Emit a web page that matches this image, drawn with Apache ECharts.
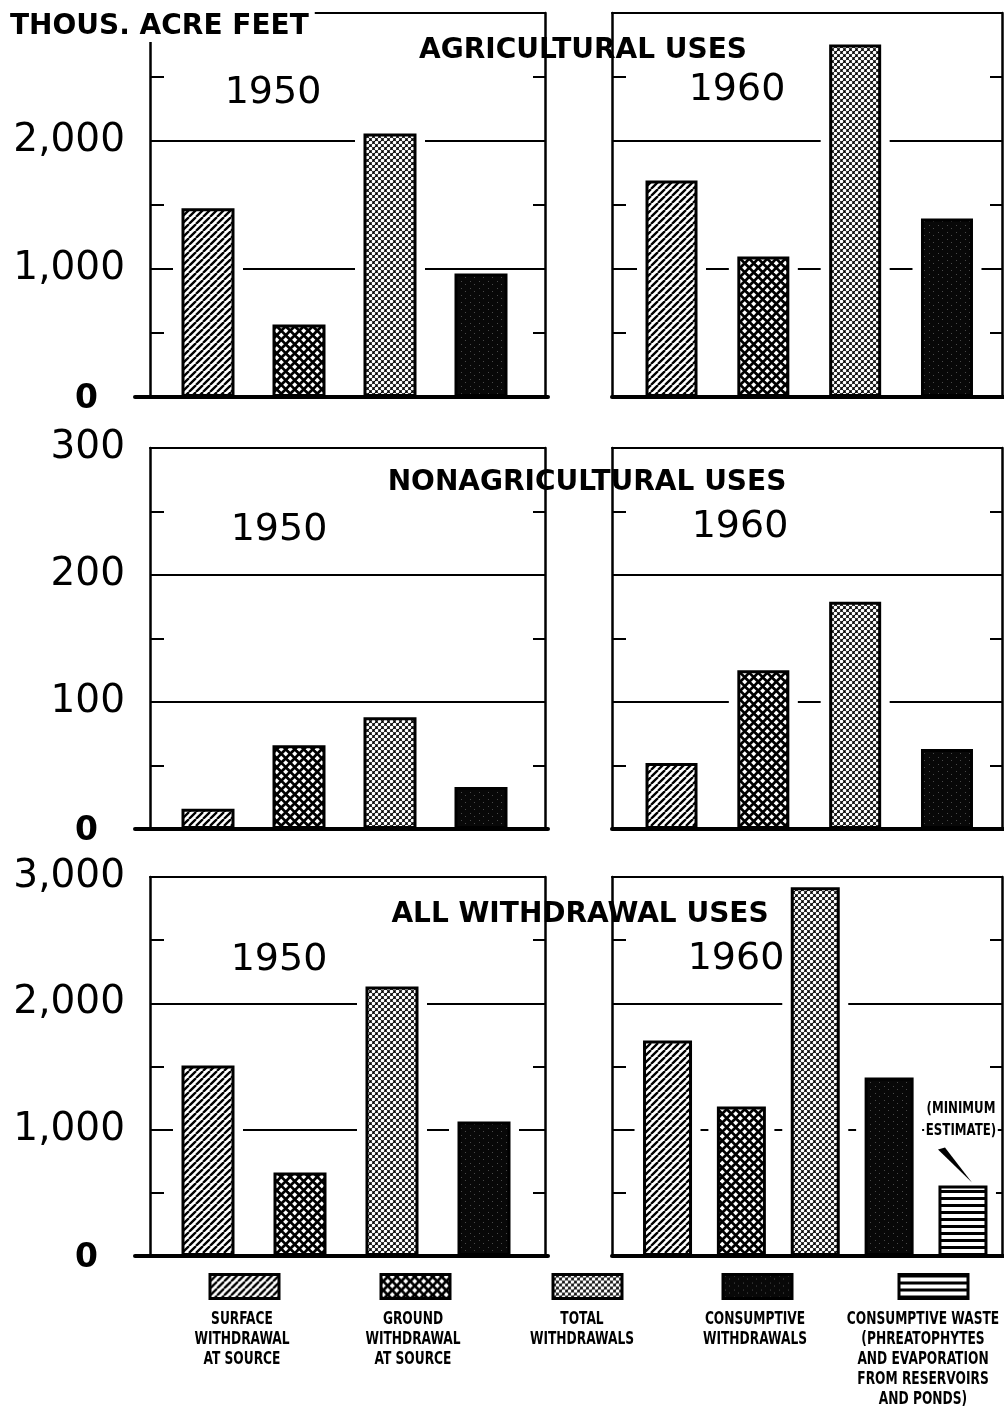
<!DOCTYPE html>
<html><head><meta charset="utf-8">
<script src="https://cdn.jsdelivr.net/npm/echarts@6/dist/echarts.min.js"></script>
<style>html,body{margin:0;padding:0;background:#fff}#c{width:1004px;height:1411px}</style>
</head><body><div id="c"></div>
<script>
// ---------------- DATA ----------------
const seriesNames = ['Surface withdrawal at source', 'Ground withdrawal at source', 'Total withdrawals', 'Consumptive withdrawals', 'Consumptive waste'];
const categories4 = ['Surface', 'Ground', 'Total', 'Consumptive'];
const categories5 = ['Surface', 'Ground', 'Total', 'Consumptive', 'Waste'];
const agri1950 = [1475, 566, 2059, 965];
const agri1960 = [1691, 1098, 2754, 1395];
const nonagri1950 = [16, 66, 88, 33];
const nonagri1960 = [52, 125, 179, 63];
const all1950 = [1508, 661, 2134, 1065];
const all1960 = [1706, 1184, 2918, 1413, 558];
const agriTickLabels = [0, 1000, 2000];
const nonagriTickLabels = [0, 100, 200, 300];
const allTickLabels = [0, 1000, 2000, 3000];
const rowTitles = ['AGRICULTURAL USES', 'NONAGRICULTURAL USES', 'ALL WITHDRAWAL USES'];
const years = ['1950', '1960'];
const unitTitle = 'THOUS. ACRE FEET';
const legendLabels = ['SURFACE\nWITHDRAWAL\nAT SOURCE', 'GROUND\nWITHDRAWAL\nAT SOURCE', 'TOTAL\nWITHDRAWALS', 'CONSUMPTIVE\nWITHDRAWALS', 'CONSUMPTIVE WASTE\n(PHREATOPHYTES\nAND EVAPORATION\nFROM RESERVOIRS\nAND PONDS)'];
const noteText = '(MINIMUM\nESTIMATE)';

// ---------------- PATTERNS ----------------
function tile(w, h, fn) {
  const c = document.createElement('canvas'); c.width = w; c.height = h;
  const x = c.getContext('2d'); fn(x, w, h);
  return { image: c, repeat: 'repeat' };
}
function wrapped(w, h, pts, drawOne) {
  for (const [cx, cy] of pts) for (const dx of [-w, 0, w]) for (const dy of [-h, 0, h]) drawOne(cx + dx, cy + dy);
}
const patSurface = tile(7, 7, (x, w, h) => {
  x.fillStyle = '#fff'; x.fillRect(0, 0, w, h);
  x.strokeStyle = '#000'; x.lineWidth = 2.3; x.beginPath();
  for (const o of [-w, 0, w]) { x.moveTo(o, h); x.lineTo(o + w, 0); }
  x.stroke();
});
const patGround = tile(9, 9, (x, w, h) => {
  x.fillStyle = '#000'; x.fillRect(0, 0, w, h); x.fillStyle = '#fff';
  wrapped(w, h, [[2.25, 2.25], [6.75, 6.75]], (cx, cy) => {
    const r = 2.6; x.beginPath(); x.moveTo(cx, cy - r); x.lineTo(cx + r, cy); x.lineTo(cx, cy + r); x.lineTo(cx - r, cy); x.closePath(); x.fill();
  });
});
const patTotal = tile(6, 6, (x, w, h) => {
  x.fillStyle = '#000'; x.fillRect(0, 0, w, h); x.fillStyle = '#fff';
  wrapped(w, h, [[1.5, 1.5], [4.5, 4.5]], (cx, cy) => { x.beginPath(); x.arc(cx, cy, 1.8, 0, Math.PI * 2); x.fill(); });
});
const patCons = tile(9, 7, (x, w, h) => {
  x.fillStyle = '#080808'; x.fillRect(0, 0, w, h);
  x.fillStyle = '#4a4a4a'; x.fillRect(2, 1, 1, 1); x.fillRect(6, 4, 1, 1);
});
const patWaste = tile(4, 7, (x, w, h) => {
  x.fillStyle = '#fff'; x.fillRect(0, 0, w, h);
  x.fillStyle = '#000'; x.fillRect(0, 0, w, 3);
});
const patterns = [patSurface, patGround, patTotal, patCons, patWaste];

// ---------------- LAYOUT ----------------
const rowsLayout = [
  { top: 13, bottom: 397, max: 3000, major: 1000, minor: 500, labels: agriTickLabels, titleY: 51, yearY: [93, 90] },
  { top: 448, bottom: 829, max: 300, major: 100, minor: 50, labels: nonagriTickLabels, titleY: 483, yearY: [530, 527] },
  { top: 877, bottom: 1256, max: 3000, major: 1000, minor: 500, labels: allTickLabels, titleY: 915, yearY: [960, 959] }
];
const titleX = [583, 587, 580];
const yearX = [[273, 737], [279, 740], [279, 736]];
const frameX = [[150, 545], [612, 1002]];
const baseX = [[135, 548], [612, 1004]];
const barsX = [
  [[162.5, 526.5], [625.6, 992.9]],
  [[162.5, 526.5], [625.6, 992.9]],
  [[162, 530], [630.6, 999.9]]
];
const barW = [[53, 52], [53, 52], [53, 49]];
const HALO = 7;

const panels = [
  { row: 0, side: 0, values: agri1950, cats: categories4 },
  { row: 0, side: 1, values: agri1960, cats: categories4 },
  { row: 1, side: 0, values: nonagri1950, cats: categories4 },
  { row: 1, side: 1, values: nonagri1960, cats: categories4 },
  { row: 2, side: 0, values: all1950, cats: categories4 },
  { row: 2, side: 1, values: all1960, cats: categories5 }
];

const grids = [], xAxes = [], yAxes = [], series = [], titles = [], legends = [], graphics = [];
const FONT = 'DejaVu Sans';
const COND = '"DejaVu Sans Condensed", "DejaVu Sans", sans-serif';
const line = (w) => ({ show: true, onZero: false, lineStyle: { color: '#000', width: w } });
const off = { show: false };
function addGrid(l, r, top, h) {
  grids.push({ left: l, width: r - l, top: top, height: h, containLabel: false, outerBoundsMode: 'none', show: false });
  return grids.length - 1;
}
let noteAxes = null;

panels.forEach((p, pi) => {
  const L = rowsLayout[p.row];
  const h = L.bottom - L.top;
  // baseline grid
  const g0 = addGrid(baseX[p.side][0], baseX[p.side][1], L.top, h);
  xAxes.push({ gridIndex: g0, type: 'value', min: 0, max: 1, position: 'bottom', axisLine: line(4), axisTick: off, axisLabel: off, splitLine: off, z: 10 });
  yAxes.push({ gridIndex: g0, type: 'value', min: 0, max: L.max, show: false });
  // frame grid
  const g1 = addGrid(frameX[p.side][0], frameX[p.side][1], L.top, h);
  xAxes.push({ gridIndex: g1, type: 'value', min: 0, max: 1, position: 'top', axisLine: line(2), axisTick: off, axisLabel: off, splitLine: off });
  yAxes.push({ gridIndex: g1, type: 'value', position: 'left', min: 0, max: L.max, interval: L.minor,
    axisLine: line(2.5), axisTick: { show: true, inside: true, length: 14, lineStyle: { color: '#000', width: 2 } },
    axisLabel: off, splitLine: off });
  yAxes.push({ gridIndex: g1, type: 'value', position: 'left', min: 0, max: L.max, interval: L.major,
    axisLine: { show: false }, axisTick: off,
    axisLabel: p.side === 0 ? {
      show: true, margin: 25, color: '#000', fontFamily: FONT, fontSize: 39,
      formatter: (v) => L.labels.includes(v) ? (v === 0 ? '{z|0}' : v.toLocaleString('en-US')) : '',
      rich: { z: { fontFamily: FONT, fontWeight: 'bold', fontSize: 33, color: '#000', padding: [5, 27, 0, 0] } }
    } : off,
    splitLine: { show: true, lineStyle: { color: '#000', width: 2 } } });
  yAxes.push({ gridIndex: g1, type: 'value', position: 'right', min: 0, max: L.max, interval: L.minor,
    axisLine: line(2.5), axisTick: { show: true, inside: true, length: 12, lineStyle: { color: '#000', width: 2 } },
    axisLabel: off, splitLine: off });
  // bars grid
  const g2 = addGrid(barsX[p.row][p.side][0], barsX[p.row][p.side][1], L.top, h);
  const bx = xAxes.length; xAxes.push({ gridIndex: g2, type: 'category', data: p.cats, show: false });
  const by = yAxes.length; yAxes.push({ gridIndex: g2, type: 'value', min: 0, max: L.max, show: false });
  const bw = barW[p.row][p.side];
  if (pi === 5) noteAxes = { x: bx, y: by, w: bw };
  // halo (white gap around bars)
  series.push({ type: 'custom', xAxisIndex: bx, yAxisIndex: by, z: 3, silent: true,
    data: p.values.map((v, i) => [i, v]),
    renderItem: (params, api) => {
      const t = api.coord([api.value(0), api.value(1)]);
      const b = api.coord([api.value(0), 0]);
      const w = bw + 3 + 2 * HALO;
      return { type: 'rect', shape: { x: t[0] - w / 2, y: t[1], width: w, height: b[1] - t[1] }, style: { fill: '#fff' } };
    } });
  p.values.forEach((v, k) => {
    series.push({ type: 'bar', name: seriesNames[k], xAxisIndex: bx, yAxisIndex: by, z: 4, silent: true,
      barWidth: bw, barGap: '-100%', animation: false,
      data: p.values.map((vv, i) => i === k ? vv : '-'),
      itemStyle: { color: patterns[k], borderColor: '#000', borderWidth: 3 } });
  });
  // year label
  titles.push({ text: years[p.side], left: yearX[p.row][p.side], top: L.yearY[p.side], textAlign: 'center', textVerticalAlign: 'middle', padding: 0,
    textStyle: { fontFamily: FONT, fontWeight: 'normal', fontSize: 38, color: '#000' } });
});

rowTitles.forEach((t, r) => {
  titles.push({ text: t, left: titleX[r], top: rowsLayout[r].titleY, textAlign: 'center', textVerticalAlign: 'middle', padding: 0,
    textStyle: { fontFamily: FONT, fontWeight: 'bold', fontSize: 28, color: '#000' } });
});
titles.push({ text: unitTitle, left: 6, top: 3, padding: [10, 6, 1, 4], backgroundColor: '#fff',
  textStyle: { fontFamily: FONT, fontWeight: 'bold', fontSize: 28, lineHeight: 28, color: '#000' } });

// legend
const legendX = [208.5, 379.5, 551.5, 721.5, 897.5];
const legendLabelX = [242, 413, 582, 755, 923];
seriesNames.forEach((n, k) => {
  legends.push({ data: [{ name: n, icon: 'rect', itemStyle: { color: patterns[k], borderColor: '#000', borderWidth: 3 } }],
    left: legendX[k], top: 1273, orient: 'horizontal', padding: 0, itemGap: 0, itemWidth: 69, itemHeight: 24,
    selectedMode: false, formatter: () => '', textStyle: { fontSize: 1 } });
  graphics.push({ type: 'text', z: 20, silent: true, x: legendLabelX[k], y: 1310, scaleX: 0.8,
    style: { text: legendLabels[k], align: 'center', verticalAlign: 'top', font: 'bold 17px ' + COND, lineHeight: 20, fill: '#000' } });
});

const chart = echarts.init(document.getElementById('c'), null, { renderer: 'canvas', width: 1004, height: 1411 });
chart.setOption({
  animation: false,
  backgroundColor: '#fff',
  title: titles,
  legend: legends,
  tooltip: { show: false },
  grid: grids,
  xAxis: xAxes,
  yAxis: yAxes,
  series: series
});

// annotation pointing at the consumptive waste bar
const last = categories5.length - 1;
const pt = chart.convertToPixel({ xAxisIndex: noteAxes.x, yAxisIndex: noteAxes.y }, [last, all1960[last]]);
graphics.push(
  { type: 'polygon', z: 20, silent: true,
    shape: { points: [[pt[0] - 25, pt[1] - 36], [pt[0] - 18, pt[1] - 38], [pt[0] + 9, pt[1] - 3]] },
    style: { fill: '#000' } },
  { type: 'text', z: 20, silent: true, x: pt[0] - 2, y: pt[1] - 66, scaleX: 0.82,
    style: { text: noteText, align: 'center', verticalAlign: 'middle', font: 'bold 16px ' + COND, lineHeight: 22, fill: '#000', backgroundColor: '#fff', padding: [0, 2] } }
);
chart.setOption({ graphic: graphics });
</script>
</body></html>
